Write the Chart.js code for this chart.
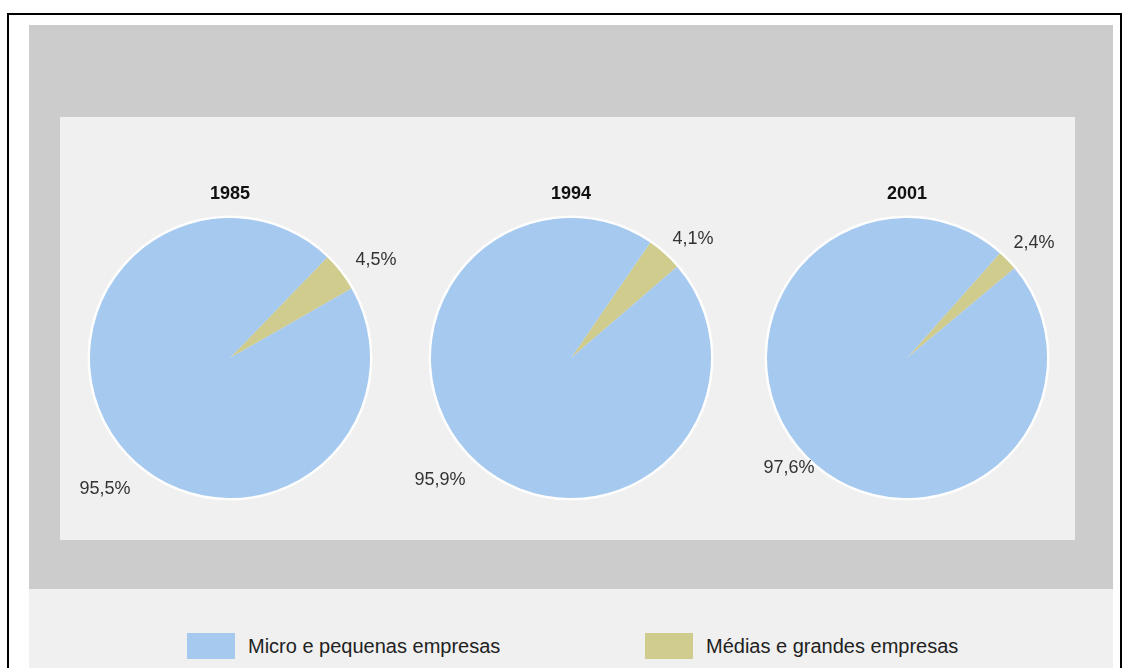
<!DOCTYPE html>
<html lang="pt">
<head>
<meta charset="utf-8">
<title>Empresas por porte</title>
<script src="https://cdn.jsdelivr.net/npm/chart.js@4.4.1/dist/chart.umd.min.js"></script>
<style>
    body {
        margin: 0;
        width: 1122px;
        height: 668px;
        overflow: hidden;
        background: #ffffff;
        font-family: "Liberation Sans", Arial, sans-serif;
        position: relative;
    }
    .frame {
        position: absolute;
        left: 7px;
        top: 13px;
        width: 1111px;
        height: 700px;
        border: 2px solid #000;
    }
    .outer {
        position: absolute;
        left: 29px;
        top: 25px;
        width: 1084px;
        height: 564px;
        background: #cccccc;
    }
    .panel {
        position: absolute;
        left: 60px;
        top: 117px;
        width: 1015px;
        height: 423px;
        background: #f0f0f0;
    }
    .legend-area {
        position: absolute;
        left: 29px;
        top: 589px;
        width: 1084px;
        height: 79px;
        background: #f0f0f0;
    }
    .pie-box {
        position: absolute;
        width: 360px;
        height: 360px;
    }
    .legend-item {
        position: absolute;
        top: 633px;
        height: 26px;
        display: flex;
        align-items: center;
        font-size: 20px;
        color: #222;
    }
    .legend-swatch {
        width: 48px;
        height: 26px;
        margin-right: 13px;
    }
</style>
</head>
<body>
<div class="frame"></div>
<div class="outer"></div>
<div class="panel"></div>
<div class="legend-area"></div>

<div class="pie-box" style="left:50px; top:168px;"><canvas id="pie-0" width="360" height="360"></canvas></div>
<div class="pie-box" style="left:391px; top:168px;"><canvas id="pie-1" width="360" height="360"></canvas></div>
<div class="pie-box" style="left:727px; top:168px;"><canvas id="pie-2" width="360" height="360"></canvas></div>

<div class="legend-item" style="left:187px;">
    <div class="legend-swatch" style="background:#a6c9ef;"></div>
    <span id="legend-0"></span>
</div>
<div class="legend-item" style="left:645px;">
    <div class="legend-swatch" style="background:#cfcc8e;"></div>
    <span id="legend-1"></span>
</div>

<script>
// Dados
const years = ['1985', '1994', '2001'];
const categories = ['Médias e grandes empresas', 'Micro e pequenas empresas'];
const mediumLarge = [4.5, 4.1, 2.4];
const microSmall = [95.5, 95.9, 97.6];

// Layout de cada pizza
const rotations = [44, 34.5, 41.5];
const smallLabelOffsets = [[146, -98], [122, -119], [127, -115]];
const bigLabelOffsets = [[-125, 131], [-131, 122], [-118, 110]];

const sliceColors = ['#cfcc8e', '#a6c9ef'];

function formatPercent(value) {
    return value.toFixed(1).replace('.', ',') + '%';
}

// Contorno branco, título e rótulos desenhados à mão
const pieDecorations = {
    id: 'pieDecorations',
    beforeDatasetsDraw(chart) {
        const arc = chart.getDatasetMeta(0).data[0];
        const ctx = chart.ctx;
        ctx.save();
        ctx.beginPath();
        ctx.arc(arc.x, arc.y, arc.outerRadius + 1, 0, Math.PI * 2);
        ctx.strokeStyle = 'rgba(255, 255, 255, 0.9)';
        ctx.lineWidth = 3;
        ctx.stroke();
        ctx.restore();
    },
    afterDatasetsDraw(chart, args, opts) {
        const arc = chart.getDatasetMeta(0).data[0];
        const ctx = chart.ctx;
        const values = chart.data.datasets[0].data;
        ctx.save();
        ctx.textAlign = 'center';
        ctx.textBaseline = 'middle';

        ctx.fillStyle = '#111';
        ctx.font = 'bold 18px "Liberation Sans", Arial, sans-serif';
        ctx.fillText(opts.title, arc.x, arc.y - 164);

        ctx.fillStyle = '#333';
        ctx.font = '18px "Liberation Sans", Arial, sans-serif';
        ctx.fillText(formatPercent(values[0]), arc.x + opts.small[0], arc.y + opts.small[1]);
        ctx.fillText(formatPercent(values[1]), arc.x + opts.big[0], arc.y + opts.big[1]);
        ctx.restore();
    }
};

function renderPie(index) {
    const canvas = document.getElementById(`pie-${index}`);
    return new Chart(canvas, {
        type: 'pie',
        data: {
            labels: categories,
            datasets: [{
                data: [mediumLarge[index], microSmall[index]],
                backgroundColor: sliceColors,
                borderWidth: 0
            }]
        },
        options: {
            responsive: false,
            animation: false,
            rotation: rotations[index],
            layout: {
                padding: { left: 40, right: 40, top: 50, bottom: 30 }
            },
            plugins: {
                legend: { display: false },
                tooltip: { enabled: false },
                pieDecorations: {
                    title: years[index],
                    small: smallLabelOffsets[index],
                    big: bigLabelOffsets[index]
                }
            }
        },
        plugins: [pieDecorations]
    });
}

years.forEach((year, i) => renderPie(i));

document.getElementById('legend-0').textContent = categories[1];
document.getElementById('legend-1').textContent = categories[0];
</script>
</body>
</html>
